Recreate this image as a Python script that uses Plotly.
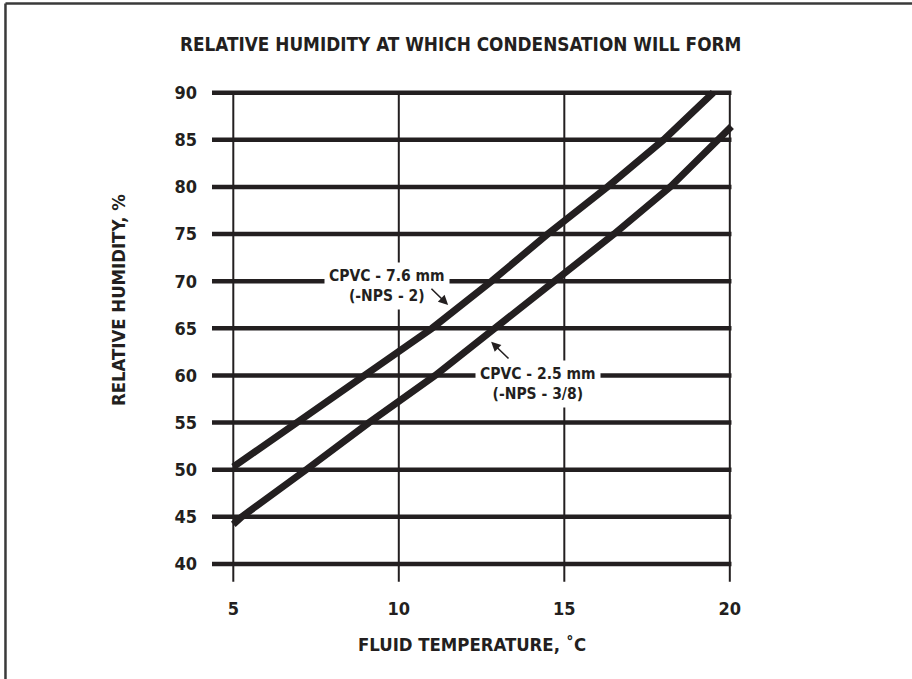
import plotly.graph_objects as go

# ---- data ----
temp_ticks = [5, 10, 15, 20]
rh_ticks = [40, 45, 50, 55, 60, 65, 70, 75, 80, 85, 90]

cpvc_76_temp = [5.0, 6.9, 8.9, 11.0, 12.8, 14.5, 16.3, 18.0, 19.5]
cpvc_76_rh = [50.3, 55, 60, 65, 70, 75, 80, 85, 90]

cpvc_25_temp = [5.0, 5.25, 7.2, 9.1, 11.1, 12.9, 14.7, 16.5, 18.2, 19.6, 20.05]
cpvc_25_rh = [44.2, 45, 50, 55, 60, 65, 70, 75, 80, 85, 86.4]

title_text = "RELATIVE HUMIDITY AT WHICH CONDENSATION WILL FORM"
x_title = "FLUID TEMPERATURE, ˚C"
y_title = "RELATIVE HUMIDITY, %"
label_76 = "CPVC - 7.6 mm<br>(-NPS - 2)"
label_25 = "CPVC - 2.5 mm<br>(-NPS - 3/8)"

INK = "#231f20"
FONT = "DejaVu Sans Condensed, Liberation Sans Narrow, Arial Narrow, sans-serif"
TICKFONT = "Liberation Sans Narrow, DejaVu Sans Condensed, sans-serif"

fig = go.Figure()
fig.add_trace(go.Scatter(x=cpvc_76_temp, y=cpvc_76_rh, mode="lines",
                         line=dict(color=INK, width=7), showlegend=False,
                         hoverinfo="skip"))
fig.add_trace(go.Scatter(x=cpvc_25_temp, y=cpvc_25_rh, mode="lines",
                         line=dict(color=INK, width=7), showlegend=False,
                         hoverinfo="skip"))

shapes = []
x_left = 4.352
for v in rh_ticks:
    shapes.append(dict(type="line", xref="x", yref="y", x0=x_left, x1=20.05,
                       y0=v, y1=v, line=dict(color=INK, width=4.5), layer="below"))
for t in temp_ticks:
    shapes.append(dict(type="line", xref="x", yref="y", x0=t, x1=t,
                       y0=38.12, y1=90, line=dict(color=INK, width=2), layer="below"))
# page frame (top and left edges)
shapes.append(dict(type="line", xref="paper", yref="paper", x0=-0.3755, x1=1.28,
                   y0=1.135, y1=1.135, line=dict(color="#3a3a3a", width=2.5)))
shapes.append(dict(type="line", xref="paper", yref="paper", x0=-0.3755, x1=-0.3755,
                   y0=1.135, y1=-0.17, line=dict(color="#3a3a3a", width=2.5)))

annotations = [
    dict(text=title_text, xref="paper", yref="paper", x=0.4527, y=1.0556,
         xanchor="center", yanchor="middle", showarrow=False,
         font=dict(size=18.8, color=INK, family=FONT, weight="bold")),
    dict(text=x_title, xref="x", yref="paper", x=12.2, y=-0.092,
         xanchor="center", yanchor="middle", showarrow=False,
         font=dict(size=18.4, color=INK, family=FONT, weight="bold")),
    dict(text=y_title, xref="paper", yref="paper", x=-0.171, y=0.567,
         xanchor="center", yanchor="middle", showarrow=False, textangle=-90,
         font=dict(size=18.4, color=INK, family=FONT, weight="bold")),
    dict(text=label_76, xref="x", yref="y", x=9.64, y=69.5,
         xanchor="center", yanchor="middle", showarrow=False, bgcolor="white",
         borderpad=4, font=dict(size=15.5, color=INK, family=FONT, weight="bold")),
    dict(text=label_25, xref="x", yref="y", x=14.2, y=59.1,
         xanchor="center", yanchor="middle", showarrow=False, bgcolor="white",
         borderpad=4, font=dict(size=15.5, color=INK, family=FONT, weight="bold")),
    dict(text="", xref="x", yref="y", x=11.49, y=67.48, axref="x", ayref="y",
         ax=10.94, ay=69.35, showarrow=True, arrowhead=2, arrowsize=1.2,
         arrowwidth=1.6, arrowcolor=INK),
    dict(text="", xref="x", yref="y", x=12.79, y=63.58, axref="x", ayref="y",
         ax=13.36, ay=61.64, showarrow=True, arrowhead=2, arrowsize=1.2,
         arrowwidth=1.6, arrowcolor=INK),
]

fig.update_layout(
    width=912, height=679,
    margin=dict(l=212, r=150, t=74, b=83),
    paper_bgcolor="white", plot_bgcolor="white",
    shapes=shapes, annotations=annotations,
    xaxis=dict(range=[4.3565, 20.9725], tickvals=temp_ticks,
               ticktext=[str(t) for t in temp_ticks], showgrid=False,
               zeroline=False, showline=False, ticks="",
               tickfont=dict(size=18, color=INK, family=TICKFONT, weight="bold")),
    yaxis=dict(range=[36.605, 91.98], tickvals=rh_ticks,
               ticktext=[str(v) for v in rh_ticks], showgrid=False,
               zeroline=False, showline=False, ticks="", ticklabelstandoff=14,
               tickfont=dict(size=18, color=INK, family=TICKFONT, weight="bold")),
)

fig.write_html("out.html", config={"displayModeBar": False},
               post_script="document.body.style.margin='0';document.body.style.overflow='hidden';")
